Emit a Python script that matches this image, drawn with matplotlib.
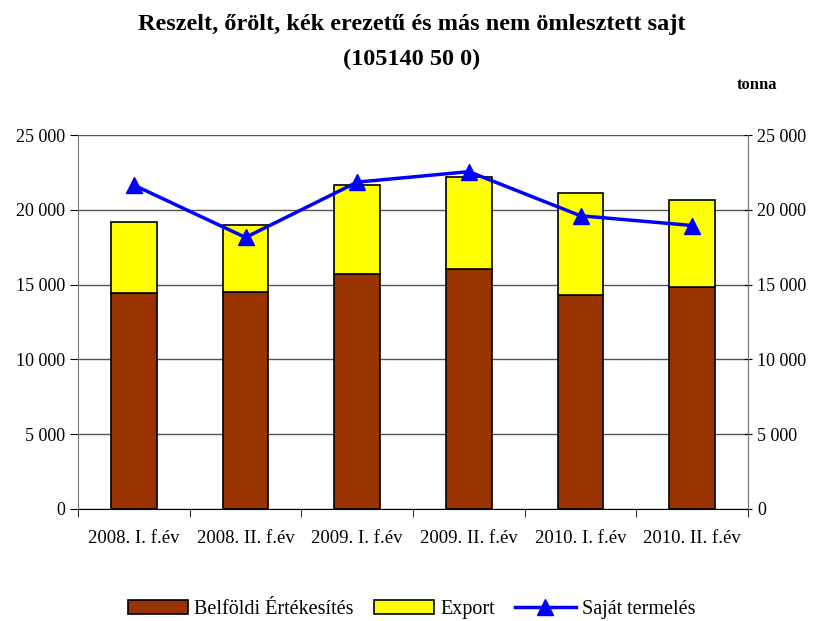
import matplotlib.pyplot as plt
import numpy as np
from matplotlib.ticker import FuncFormatter

plt.rcParams['font.family'] = ['Liberation Serif', 'DejaVu Serif']

# Data
categories = ["2008. I. f.év", "2008. II. f.év", "2009. I. f.év", "2009. II. f.év",
              "2010. I. f.év", "2010. II. f.év"]
belfoldi = [14450, 14500, 15700, 16050, 14300, 14850]
export = [4750, 4500, 5950, 6150, 6800, 5800]
sajat = [21650, 18150, 21850, 22550, 19600, 18950]

x = np.arange(len(categories))

fig = plt.figure(figsize=(8.23, 6.21), dpi=100)
ax = fig.add_axes([0.0948, 0.1804, 0.8141, 0.6022])

b1 = ax.bar(x, belfoldi, width=0.41, color="#993300", edgecolor="black", linewidth=1.2,
            label="Belföldi Értékesítés", zorder=3)
b2 = ax.bar(x, export, width=0.41, bottom=belfoldi, color="#FFFF00", edgecolor="black",
            linewidth=1.2, label="Export", zorder=3)
ln, = ax.plot(x, sajat, color="#0000FF", linewidth=2.5, marker="^", markersize=11,
              label="Saját termelés", zorder=4)

ax.set_xlim(-0.5, len(categories) - 0.5)
ax.set_ylim(0, 25000)
ax.set_yticks(np.arange(0, 25001, 5000))
fmt = FuncFormatter(lambda v, p: f"{int(v):,}".replace(",", " "))
ax.yaxis.set_major_formatter(fmt)
ax.grid(axis="y", color="#555555", linewidth=1, zorder=0)

ax.set_xticks(x)
ax.set_xticklabels(categories, fontsize=13.5)
ax.set_xticks(np.arange(-0.5, len(categories)), minor=True)
ax.tick_params(axis="x", which="major", length=0, pad=15)
ax.tick_params(axis="x", which="minor", length=6, direction="out")
ax.tick_params(axis="y", labelsize=13, length=6, direction="out")

ax.spines["top"].set_visible(False)
ax.spines["left"].set_color("#777777")
ax.spines["right"].set_color("#777777")
ax.spines["bottom"].set_color("black")

ax2 = ax.twinx()
ax2.set_ylim(ax.get_ylim())
ax2.set_yticks(np.arange(0, 25001, 5000))
ax2.yaxis.set_major_formatter(fmt)
ax2.tick_params(axis="y", labelsize=13, length=6, direction="inout")
ax2.spines["top"].set_visible(False)
ax2.spines["right"].set_color("#777777")
ax2.spines["left"].set_visible(False)
ax2.spines["bottom"].set_visible(False)

fig.text(0.5, 0.977, "Reszelt, őrölt, kék erezetű és más nem ömlesztett sajt\n(105140 50 0)",
         ha="center", va="top", fontsize=17.5, fontweight="bold", linespacing=1.85)
fig.text(0.945, 0.85, "tonna", ha="right", va="bottom", fontsize=12, fontweight="bold")

fig.legend([b1, b2, ln], ["Belföldi Értékesítés", "Export", "Saját termelés"],
           loc="center", bbox_to_anchor=(0.5, 0.018), ncol=3, frameon=False,
           fontsize=14.5, handlelength=3, columnspacing=1.0, handletextpad=0.3)

fig.savefig("out.png", dpi=100)
